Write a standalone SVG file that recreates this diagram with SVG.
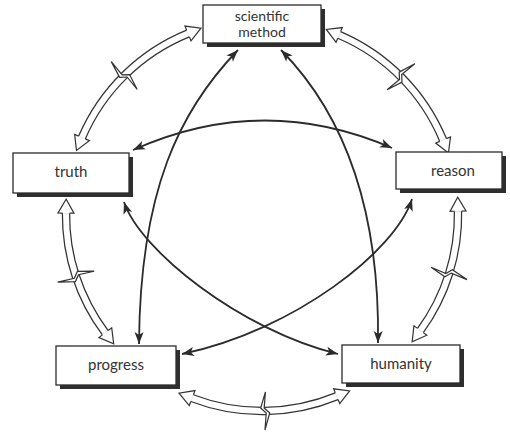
<svg xmlns="http://www.w3.org/2000/svg" width="510" height="434" viewBox="0 0 510 434">
<defs>
<style>
.box{fill:#fff;stroke:#2b2b2b;stroke-width:1.3}
.shadow{fill:#2e2e2e}
.lbl{font-family:Lato,"Open Sans","Liberation Sans",sans-serif;font-size:15px;fill:#333;text-anchor:middle}
.sm{font-size:14px}
.bandOut{fill:none;stroke:#333;stroke-width:8.5}
.bandIn{fill:none;stroke:#fff;stroke-width:6;marker-start:url(#hollow);marker-end:url(#hollow)}
.solid{fill:none;stroke:#2b2b2b;stroke-width:1.8;marker-start:url(#head);marker-end:url(#head)}
.bolt{fill:#fff;stroke:#333;stroke-width:1.2;stroke-linejoin:miter}
</style>
<marker id="hollow" markerUnits="userSpaceOnUse" markerWidth="20" markerHeight="20" refX="0" refY="0" orient="auto-start-reverse" overflow="visible" viewBox="-2 -10 20 20">
<path d="M0,-3.6 L0,-8 L14,0 L0,8 L0,3.6" fill="#fff" stroke="#333" stroke-width="1.2"/>
</marker>
<marker id="head" markerUnits="userSpaceOnUse" markerWidth="16" markerHeight="14" refX="0" refY="0" orient="auto-start-reverse" overflow="visible" viewBox="-14 -7 16 14">
<path d="M0,0 L-12,-4.5 L-9,0 L-12,4.5 Z" fill="#2b2b2b"/>
</marker>
<path id="boltShape" d="M1,-19 L-4,-3 L1.5,2 L0,19 L5,2 L-0.5,-3 Z"/>
</defs>
<g id="connectors">
<g id="hollow-arrows">
<path class="bandOut" d="M188,33.5 A196,196 0 0 0 82,137.5"/>
<path class="bandIn" d="M188,33.5 A196,196 0 0 0 82,137.5"/>
<path class="bandOut" d="M339.2,34.9 A196,196 0 0 1 443.1,140"/>
<path class="bandIn" d="M339.2,34.9 A196,196 0 0 1 443.1,140"/>
<path class="bandOut" d="M66,213.1 A196,196 0 0 0 105.3,332.7"/>
<path class="bandIn" d="M66,213.1 A196,196 0 0 0 105.3,332.7"/>
<path class="bandOut" d="M458,211.2 A196,196 0 0 1 420.4,330.5"/>
<path class="bandIn" d="M458,211.2 A196,196 0 0 1 420.4,330.5"/>
<path class="bandOut" d="M192.1,398.1 A196,196 0 0 0 336.7,396.2"/>
<path class="bandIn" d="M192.1,398.1 A196,196 0 0 0 336.7,396.2"/>
<use href="#boltShape" class="bolt" transform="translate(124.6,75.2) rotate(135.5)"/>
<use href="#boltShape" class="bolt" transform="translate(401.3,77.1) rotate(225.3)"/>
<use href="#boltShape" class="bolt" transform="translate(75.8,276.2) rotate(71.8)"/>
<use href="#boltShape" class="bolt" transform="translate(448.9,273.9) rotate(-72.5)"/>
<use href="#boltShape" class="bolt" transform="translate(264.7,411) rotate(-0.8)"/>
</g>
<g id="solid-arrows">
<path class="solid" d="M133,150 Q263,92 392,148"/>
<path class="solid" d="M238,50 C180,110 140,190 139,344"/>
<path class="solid" d="M281,50 C340,110 380,200 378,343"/>
<path class="solid" d="M124,202 C140,250 240,330 338,354"/>
<path class="solid" d="M412,199 C396,250 296,330 182,354"/>
</g>
</g>
<g id="node-scientific-method">
<rect class="shadow" x="207" y="9" width="118" height="38"/>
<rect class="box" x="203" y="5" width="118" height="38"/>
<text class="lbl sm" x="262" y="21">scientific</text>
<text class="lbl sm" x="262" y="37">method</text>
</g>
<g id="node-truth">
<rect class="shadow" x="17" y="157" width="116" height="40"/>
<rect class="box" x="13" y="153" width="116" height="40"/>
<text class="lbl" x="71" y="177">truth</text>
</g>
<g id="node-reason">
<rect class="shadow" x="400" y="156" width="106" height="37"/>
<rect class="box" x="396" y="152" width="106" height="37"/>
<text class="lbl" x="453" y="176">reason</text>
</g>
<g id="node-progress">
<rect class="shadow" x="60" y="350" width="120" height="39"/>
<rect class="box" x="56" y="346" width="120" height="39"/>
<text class="lbl" x="116" y="370">progress</text>
</g>
<g id="node-humanity">
<rect class="shadow" x="346" y="349" width="118" height="38"/>
<rect class="box" x="342" y="345" width="118" height="38"/>
<text class="lbl" x="401" y="369">humanity</text>
</g>
</svg>
